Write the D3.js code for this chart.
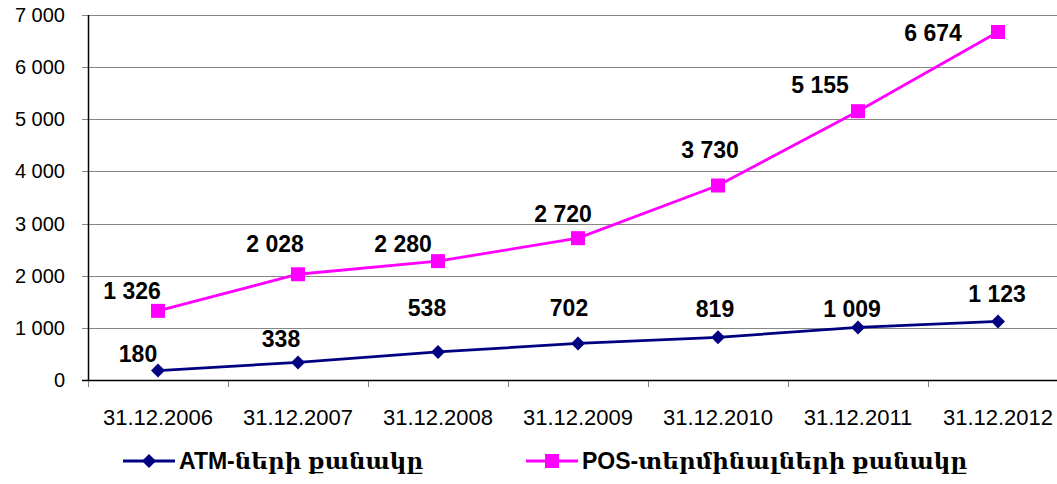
<!DOCTYPE html>
<html lang="hy">
<head>
<meta charset="utf-8">
<title>ATM and POS count</title>
<script src="https://d3js.org/d3.v7.min.js"></script>
<style>
  body { margin: 0; background: #fff; }
  svg text { font-family: Arial, "Liberation Sans", "DejaVu Sans", sans-serif; fill: #000; }
  .legend text { font-family: Arial, "Liberation Sans", "DejaVu Serif", serif; }
</style>
</head>
<body>
<div id="chart"></div>
<script>
// data
var categories = ['31.12.2006', '31.12.2007', '31.12.2008', '31.12.2009', '31.12.2010', '31.12.2011', '31.12.2012'];
var atmValues = [180, 338, 538, 702, 819, 1009, 1123];
var posValues = [1326, 2028, 2280, 2720, 3730, 5155, 6674];
var yTicks = [0, 1000, 2000, 3000, 4000, 5000, 6000, 7000];
var seriesNames = ['ATM-ների քանակը', 'POS-տերմինալների քանակը'];

// label nudges (px) as placed in the original
var atmLabelShift = [[-20, -9], [-17, -15], [-11, -36], [-9, -27], [-3, -20], [-6, -10], [-1, -19]];
var posLabelShift = [[-26, -12], [-23, -22], [-35, -9], [-15, -16], [-8, -28], [-38, -18], [-65, 9]];

(function() {
  var width = 1057, height = 484;
  var pLeft = 88, pTop = 15, pBottom = 380, pRight = 1068;

  var svg = d3.select('#chart').append('svg')
    .attr('width', width)
    .attr('height', height);

  var x = d3.scaleBand().domain(categories).range([pLeft, pRight]).padding(0);
  var y = d3.scaleLinear().domain([0, 7000]).range([pBottom, pTop]);
  var cx = function(d) { return x(d) + x.bandwidth() / 2; };
  var fmt = function(v) { return d3.format(',')(v).replace(/,/g, ' '); };

  // gridlines
  svg.append('g').selectAll('line')
    .data(yTicks.slice(1))
    .enter().append('line')
    .attr('x1', pLeft - 6).attr('x2', width)
    .attr('y1', function(d) { return Math.round(y(d)) + 0.5; })
    .attr('y2', function(d) { return Math.round(y(d)) + 0.5; })
    .attr('stroke', '#868686').attr('stroke-width', 1);

  // y tick labels
  svg.append('g').selectAll('text')
    .data(yTicks)
    .enter().append('text')
    .attr('x', 65)
    .attr('y', function(d) { return y(d) + 7; })
    .attr('text-anchor', 'end')
    .style('font-size', '20px')
    .text(fmt);

  // x ticks
  svg.append('g').selectAll('line')
    .data(categories)
    .enter().append('line')
    .attr('x1', function(d) { return Math.round(x(d)) + 0.5; })
    .attr('x2', function(d) { return Math.round(x(d)) + 0.5; })
    .attr('y1', pBottom).attr('y2', pBottom + 7)
    .attr('stroke', '#868686');

  // axes
  svg.append('line')
    .attr('x1', pLeft - 6).attr('x2', width)
    .attr('y1', pBottom + 0.5).attr('y2', pBottom + 0.5)
    .attr('stroke', '#000').attr('stroke-width', 1.5);
  svg.append('line')
    .attr('x1', pLeft + 0.5).attr('x2', pLeft + 0.5)
    .attr('y1', pTop).attr('y2', pBottom)
    .attr('stroke', '#000').attr('stroke-width', 1.5);

  // x labels
  svg.append('g').selectAll('text')
    .data(categories)
    .enter().append('text')
    .attr('x', cx)
    .attr('y', 425)
    .attr('text-anchor', 'middle')
    .style('font-size', '22px')
    .text(function(d) { return d; });

  var line = d3.line()
    .x(function(d, i) { return cx(categories[i]); })
    .y(function(d) { return y(d); });

  function drawSeries(values, color, marker, shifts) {
    var g = svg.append('g');
    g.append('path')
      .datum(values)
      .attr('d', line)
      .attr('fill', 'none')
      .attr('stroke', color)
      .attr('stroke-width', 2.8);
    g.selectAll('.pt')
      .data(values)
      .enter().append('path')
      .attr('class', 'pt')
      .attr('d', marker)
      .attr('fill', color)
      .attr('transform', function(d, i) { return 'translate(' + cx(categories[i]) + ',' + y(d) + ')'; });
    g.selectAll('.lbl')
      .data(values)
      .enter().append('text')
      .attr('class', 'lbl')
      .attr('x', function(d, i) { return cx(categories[i]) + shifts[i][0]; })
      .attr('y', function(d, i) { return y(d) + shifts[i][1]; })
      .attr('text-anchor', 'middle')
      .style('font-size', '23px')
      .style('font-weight', 'bold')
      .text(fmt);
  }

  var diamond = 'M0,-7L7,0L0,7L-7,0Z';
  var square = 'M-7,-7H7V7H-7Z';

  drawSeries(atmValues, '#000080', diamond, atmLabelShift);
  drawSeries(posValues, '#FF00FF', square, posLabelShift);

  // legend
  var legend = svg.append('g').attr('class', 'legend');
  var items = [
    { name: seriesNames[0], color: '#000080', marker: diamond, x: 123 },
    { name: seriesNames[1], color: '#FF00FF', marker: square, x: 526 }
  ];
  items.forEach(function(it) {
    legend.append('line')
      .attr('x1', it.x).attr('x2', it.x + 52)
      .attr('y1', 461).attr('y2', 461)
      .attr('stroke', it.color).attr('stroke-width', 2.8);
    legend.append('path')
      .attr('d', it.marker)
      .attr('fill', it.color)
      .attr('transform', 'translate(' + (it.x + 26) + ',461)');
    legend.append('text')
      .attr('x', it.x + 56)
      .attr('y', 469)
      .style('font-size', '23px')
      .style('font-weight', 'bold')
      .text(it.name);
  });
})();
</script>
</body>
</html>
